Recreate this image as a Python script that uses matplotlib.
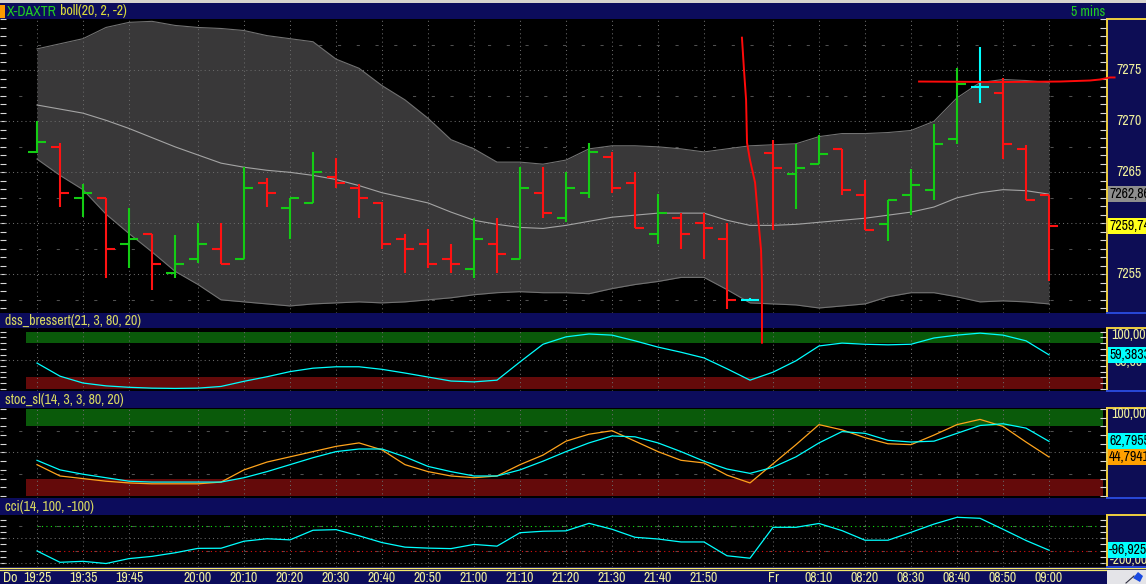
import numpy as np
import matplotlib
matplotlib.use("Agg")
import matplotlib.pyplot as plt
from matplotlib.ticker import MultipleLocator, NullLocator
from matplotlib.patches import Rectangle, Polygon

# ---------------- data ----------------
opens = [7267.0, 7267.5, 7262.5, 7262.5, 7258.0, 7259.0, 7255.1, 7256.5, 7257.5, 7256.5,
         7264.0, 7261.5, 7262.0, 7264.5, 7263.5, 7262.0, 7258.5, 7258.0, 7256.5, 7255.5,
         7258.0, 7256.5, 7263.0, 7260.5, 7263.0, 7266.5, 7264.0, 7259.0, 7260.5, 7260.0,
         7258.5, 7252.5, 7266.9, 7264.8, 7265.8, 7267.3, 7262.8, 7259.9, 7262.8, 7263.3,
         7268.3, 7273.4, 7272.8, 7267.3, 7262.8]
highs = [7270.0, 7267.9, 7263.9, 7262.5, 7261.5, 7259.0, 7258.9, 7260.0, 7260.0, 7265.5,
         7264.4, 7262.5, 7267.0, 7266.4, 7263.9, 7262.1, 7259.0, 7259.4, 7258.0, 7260.5,
         7260.5, 7265.5, 7265.5, 7265.0, 7267.9, 7267.0, 7265.0, 7262.9, 7261.0, 7261.0,
         7260.0, 7252.65, 7268.2, 7267.8, 7268.7, 7267.3, 7264.2, 7262.3, 7265.3, 7269.7,
         7275.2, 7277.3, 7274.2, 7267.7, 7262.8]
lows = [7266.9, 7261.6, 7260.6, 7254.6, 7255.6, 7253.5, 7254.6, 7256.1, 7256.0, 7256.5,
        7261.6, 7258.5, 7262.0, 7263.5, 7260.5, 7257.5, 7255.1, 7255.6, 7255.1, 7254.6,
        7255.1, 7256.5, 7260.5, 7260.1, 7262.5, 7263.0, 7259.5, 7258.0, 7257.5, 7256.5,
        7251.6, 7252.35, 7259.3, 7261.4, 7265.8, 7262.8, 7259.3, 7258.3, 7260.8, 7262.3,
        7267.8, 7271.8, 7266.3, 7262.3, 7254.3]
closes = [7268.0, 7263.0, 7263.0, 7257.5, 7258.5, 7256.0, 7256.0, 7258.0, 7256.0, 7263.5,
          7263.0, 7262.5, 7265.0, 7264.0, 7262.5, 7258.0, 7257.5, 7256.0, 7256.0, 7258.5,
          7257.0, 7263.5, 7261.0, 7263.5, 7267.0, 7263.5, 7259.5, 7261.0, 7259.0, 7259.5,
          7252.5, 7252.5, 7265.4, 7265.4, 7266.8, 7263.3, 7259.3, 7262.3, 7263.8, 7267.8,
          7273.7, 7273.4, 7267.8, 7262.3, 7259.74]

bb_upper = [7277.1, 7277.6, 7278.1, 7279.2, 7279.7, 7279.8, 7279.4, 7279.2, 7279.1, 7278.9,
            7278.4, 7278.1, 7277.8, 7276.1, 7275.2, 7273.5, 7272.1, 7270.3, 7268.2, 7267.3,
            7266.0, 7266.0, 7265.8, 7266.2, 7267.3, 7267.6, 7267.6, 7267.5, 7267.3, 7267.0,
            7267.3, 7267.6, 7267.7, 7267.8, 7268.5, 7268.8, 7268.8, 7268.9, 7269.1, 7270.0,
            7272.3, 7273.8, 7274.1, 7274.0, 7273.8]
bb_middle = [7271.6, 7271.2, 7270.8, 7270.1, 7269.3, 7268.4, 7267.5, 7266.7, 7265.9, 7265.5,
             7265.2, 7265.0, 7264.7, 7264.3, 7263.7, 7263.0, 7262.5, 7262.0, 7261.1, 7260.3,
             7259.9, 7259.6, 7259.5, 7259.8, 7260.2, 7260.6, 7260.8, 7261.0, 7261.0, 7261.0,
             7260.3, 7259.8, 7259.8, 7259.9, 7260.1, 7260.3, 7260.5, 7260.8, 7261.1, 7261.6,
             7262.5, 7263.0, 7263.3, 7263.2, 7262.86]
bb_lower = [7266.3, 7264.7, 7263.3, 7260.9, 7259.0, 7257.2, 7255.3, 7254.0, 7252.5, 7252.3,
            7252.1, 7251.9, 7252.1, 7252.2, 7252.3, 7252.2, 7252.3, 7252.5, 7252.7, 7253.0,
            7253.2, 7253.3, 7253.2, 7253.2, 7253.1, 7253.6, 7254.0, 7254.3, 7254.7, 7254.7,
            7253.5, 7252.2, 7252.1, 7252.0, 7251.7, 7251.9, 7252.1, 7252.8, 7253.2, 7253.2,
            7252.8, 7252.3, 7252.4, 7252.3, 7252.1]

dss = [45, 22, 10, 5, 2.5, 1, 0.5, 1, 4, 13,
       21, 30, 36, 38.5, 38.5, 34, 27.5, 20.5, 13.5, 12,
       15, 47, 78, 91, 96, 94, 84, 73, 64, 54,
       35, 15, 29, 49, 75, 80, 78, 77, 78, 89,
       94, 97.5, 94, 84, 59.3833]

stoch_slow = [41, 30, 25, 21, 17, 16, 16, 16, 16, 21,
              28, 36, 44, 51, 54, 54, 45, 34, 28, 23,
              23, 30, 40, 51, 61, 69, 68, 61, 51, 40,
              31, 26, 33, 45, 61, 74, 72, 64, 62, 63,
              72, 81, 83, 78, 62.7955]
stoch_fast = [36, 23, 20, 17, 15, 14, 14, 14, 16, 30,
              39, 45, 51, 57, 61, 53, 36, 28, 23, 21,
              23, 36, 47, 63, 71, 75, 63, 51, 41, 38,
              24, 15, 37, 59, 82, 76, 67, 60, 59, 70,
              82, 88, 80, 62, 44.7941]

cci = [-103, -195, -187, -205, -165, -147, -118, -82, -81, -24,
       -4, -13, 65, 70, 20, -35, -72, -80, -84, -50,
       -64, 45, 57, 60, 121, 73, 8, -6, -30, -30,
       -142, -162, 89, 89, 120, 62, -16, -16, 48, 115,
       170, 162, 73, -18, -96.925]

xtick_idx = [0, 2, 4, 7, 9, 11, 13, 15, 17, 19, 21, 23, 25, 27, 29, 32, 34, 36, 38, 40, 42, 44]
xtick_labels = ["19:25", "19:35", "19:45", "20:00", "20:10", "20:20", "20:30", "20:40", "20:50",
                "21:00", "21:10", "21:20", "21:30", "21:40", "21:50", "Fr", "08:10", "08:20",
                "08:30", "08:40", "08:50", "09:00"]
day_label = "Do"
price_ticks = [7255, 7260, 7265, 7270, 7275]
price_tick_labels = ["7255", "", "7265", "7270", "7275"]   # 7260 hidden by the markers

# hand-drawn annotation lines (bar index, price)
trend1_x = [30.65, 30.74, 30.83, 30.87, 31.0, 31.22, 31.35, 31.48, 31.52, 31.52, 31.52]
trend1_y = [7278.2, 7275.0, 7272.1, 7267.9, 7266.2, 7264.0, 7260.6, 7257.4, 7254.1, 7250.5, 7248.3]
trend2_x = [38.35, 41.87, 44.48, 45.78, 46.22, 46.65, 46.85]
trend2_y = [7273.9, 7273.85, 7273.9, 7274.0, 7274.1, 7274.3, 7274.3]

# ---------------- style ----------------
plt.rcParams['font.family'] = ['Archivo Narrow', 'Liberation Sans', 'DejaVu Sans']
plt.rcParams['font.size'] = 10

W, H = 1146, 584
fig = plt.figure(figsize=(W / 100, H / 100), dpi=100, facecolor='black')


def rect(x0, y0, x1, y1):
    return [x0 / W, 1 - y1 / H, (x1 - x0) / W, (y1 - y0) / H]


NAVY = '#0C0C5C'
PANEL = '#0D0D55'
TXT = '#EEEE9C'
TITLE_TXT = '#D8D860'
GRID = '#6A6A6A'
GREEN = '#14CC14'
RED = '#FF1212'
CYAN = '#00FFFF'
ORANGE = '#FFA41C'
PLOT_R = 1106
x = np.arange(len(opens))
XL = ((0 - 37) / 23, (PLOT_R - 37) / 23)
DOT = (0, (1, 3))


def bare(ax):
    ax.set_xticks([])
    ax.set_yticks([])
    for s in ax.spines.values():
        s.set_visible(False)


def title_bar(y0, y1, text, color=TITLE_TXT):
    a = fig.add_axes(rect(0, y0, W, y1), zorder=1)
    a.set_facecolor(NAVY)
    bare(a)
    a.set_xlim(0, W)
    a.set_ylim(y1, y0)
    t = None
    if text:
        t = a.text(5, (y0 + y1) / 2 + 0.5, text, color=color, va='center', ha='left')
    return a, t


def right_panel(y0, y1, ylim):
    a = fig.add_axes(rect(1107, y0, W, y1), zorder=3)
    a.set_facecolor(PANEL)
    a.set_xticks([])
    a.set_yticks([])
    a.set_xlim(0, W - 1107)
    a.set_ylim(*ylim)
    a.spines['right'].set_visible(False)
    a.spines['left'].set_color('#F0D040')
    a.spines['top'].set_color('#F0D040')
    a.spines['left'].set_linewidth(1.4)
    a.spines['top'].set_linewidth(1.4)
    a.spines['bottom'].set_color('#2848D8')
    a.spines['bottom'].set_linewidth(1.4)
    return a


def box_label(a, yv, s, fc, tc='black'):
    a.text(2, yv, s, color=tc, ha='left', va='center', zorder=5,
           bbox=dict(facecolor=fc, edgecolor='none', pad=0.8))


def panel_common(a, ylim, minor):
    a.set_facecolor('black')
    a.set_xlim(*XL)
    a.set_ylim(*ylim)
    for s in a.spines.values():
        s.set_visible(False)
    a.xaxis.set_major_locator(NullLocator())
    a.yaxis.set_major_locator(NullLocator())
    a.yaxis.set_minor_locator(MultipleLocator(minor))
    a.tick_params(axis='y', which='minor', left=True, right=True, direction='in',
                  length=4, width=0.8, color='#D8D8D8', labelleft=False, labelright=False)
    for i in xtick_idx:
        a.axvline(i, color=GRID, lw=0.75, ls=DOT, zorder=2)


# window strip at the very top
strip = fig.add_axes(rect(0, 0, W, 3))
strip.set_facecolor('#D6D3CE')
bare(strip)

# ---------------- title bars ----------------
tb1, _ = title_bar(3, 19, None)
tb1.add_patch(Rectangle((0, 5), 5, 13, facecolor='#FF9A00', edgecolor='none'))
t_sym = tb1.text(7, 11.5, "X-DAXTR", color='#22CC22', va='center', ha='left')
tb1.annotate(" boll(20, 2, -2)", xy=(1, 0), xycoords=t_sym, va='bottom', ha='left',
             color='#DCDC3C')
tb1.text(1105, 11.5, "5 mins", color='#22CC22', va='center', ha='right')
title_bar(313, 328, "dss_bressert(21, 3, 80, 20)")
title_bar(391, 408, "stoc_sl(14, 3, 3, 80, 20)")
title_bar(498, 515, "cci(14, 100, -100)")

# ---------------- main price panel ----------------
MAIN_YL = (7251.21, 7280.03)
axm = fig.add_axes(rect(0, 19, PLOT_R, 313), zorder=8)
panel_common(axm, MAIN_YL, 5 / 6)
for p in price_ticks:
    axm.axhline(p, color=GRID, lw=0.75, ls=DOT, zorder=2)
for p in np.arange(price_ticks[0] - 2.5, MAIN_YL[1], 5):
    axm.axhline(p, color='#505050', lw=0.75, ls=(0, (3, 15)), zorder=0.5)

axm.fill_between(x, bb_lower, bb_upper, color='#393839', lw=0, zorder=1)
axm.plot(x, bb_upper, color='#727272', lw=0.8, zorder=1.5)
axm.plot(x, bb_lower, color='#727272', lw=0.8, zorder=1.5)
axm.plot(x, bb_middle, color='#A4A4A4', lw=0.8, zorder=2.5)

cols = [GREEN if c > o else (RED if c < o else CYAN) for o, c in zip(opens, closes)]
axm.vlines(x, lows, highs, colors=cols, lw=1.5, zorder=4)
axm.hlines(opens, x - 0.37, x, colors=cols, lw=1.5, zorder=4)
axm.hlines(closes, x, x + 0.37, colors=cols, lw=1.5, zorder=4)

axm.plot(trend1_x, trend1_y, color='#FF0A0A', lw=1.4, clip_on=False, zorder=6)
axm.plot(trend2_x, trend2_y, color='#FF0A0A', lw=1.4, clip_on=False, zorder=6)

axr = right_panel(19, 313, MAIN_YL)
for p, lab in zip(price_ticks, price_tick_labels):
    if lab:
        axr.text(22, p, lab, color=TXT, ha='center', va='center')
box_label(axr, bb_middle[-1], f"{bb_middle[-1]:.2f}".replace('.', ','), '#8E8E8E')
box_label(axr, closes[-1], f"{closes[-1]:.2f}".replace('.', ','), '#FFFF1A')

# ---------------- DSS panel ----------------
DSS_YL = (-4.0, 106.5)
axd = fig.add_axes(rect(0, 328, PLOT_R, 391), zorder=4)
panel_common(axd, DSS_YL, 10)
axd.axhline(50, color=GRID, lw=0.75, ls=DOT, zorder=2)
band_x = [-0.48, 46.35]
axd.fill_between(band_x, 80, 100, color='#0A5A0A', lw=0, zorder=1)
axd.fill_between(band_x, 0, 20, color='#640A0A', lw=0, zorder=1)
axd.plot(x, dss, color=CYAN, lw=0.9, zorder=4)
axdr = right_panel(328, 391, DSS_YL)
axdr.text(22, 94.5, "100,00", color=TXT, ha='center', va='center')
axdr.text(22, 46, "50,00", color=TXT, ha='center', va='center')
box_label(axdr, dss[-1], f"{dss[-1]:.4f}".replace('.', ','), CYAN)

# ---------------- Stochastic panel ----------------
STO_YL = (-2.3, 101.1)
axs = fig.add_axes(rect(0, 408, PLOT_R, 498), zorder=4)
panel_common(axs, STO_YL, 10)
axs.axhline(50, color=GRID, lw=0.75, ls=DOT, zorder=2)
for lv in (25, 75):
    axs.axhline(lv, color='#505050', lw=0.75, ls=(0, (3, 15)), zorder=0.5)
axs.fill_between(band_x, 80, 100, color='#0A5A0A', lw=0, zorder=1)
axs.fill_between(band_x, 0, 20, color='#640A0A', lw=0, zorder=1)
axs.plot(x, stoch_fast, color=ORANGE, lw=0.9, zorder=4)
axs.plot(x, stoch_slow, color=CYAN, lw=0.9, zorder=4)
axsr = right_panel(408, 498, STO_YL)
axsr.text(22, 94.5, "100,00", color=TXT, ha='center', va='center')
box_label(axsr, stoch_slow[-1], f"{stoch_slow[-1]:.4f}".replace('.', ','), CYAN)
box_label(axsr, stoch_fast[-1], f"{stoch_fast[-1]:.4f}".replace('.', ','), '#FFA000')

# ---------------- CCI panel ----------------
CCI_YL = (-233.2, 188.7)
axc = fig.add_axes(rect(0, 515, PLOT_R, 567), zorder=4)
panel_common(axc, CCI_YL, 50)
for lv in (0, -200):
    axc.axhline(lv, color=GRID, lw=0.75, ls=DOT, zorder=2)
for lv in (100, -100):
    axc.axhline(lv, color='#505050', lw=0.75, ls=(0, (3, 15)), zorder=0.5)
axc.plot([0, 46.1], [100, 100], color='#10E010', lw=0.8, ls=DOT, zorder=3)
axc.plot([0, 46.1], [-100, -100], color='#E01010', lw=0.8, ls=DOT, zorder=3)
axc.plot(x, cci, color=CYAN, lw=0.9, zorder=4)
axcr = right_panel(515, 567, CCI_YL)
axcr.text(22, -176, "-200,00", color=TXT, ha='center', va='center')
box_label(axcr, cci[-1], f"{cci[-1]:.4f}".replace('.', ','), CYAN)

# ---------------- time axis bar ----------------
axx = fig.add_axes(rect(0, 567, W, 584), zorder=2)
axx.set_facecolor(NAVY)
bare(axx)
axx.set_xlim(XL[0], (W - 37) / 23)
axx.set_ylim(584, 567)
axx.axhline(567.6, color='#F4E86A', lw=0.9)
axx.axhline(569.6, color='#F4E86A', lw=0.9)
for i, lab in zip(xtick_idx, xtick_labels):
    axx.text(i, 577.5, lab, color=TXT, ha='center', va='center')
axx.text(XL[0] + 3 / 23, 577.5, day_label, color=TXT, ha='left', va='center')

# corner box with pencil icon
fig.patches.append(Rectangle((1107 / W, 0), (W - 1107) / W, 14.5 / H, transform=fig.transFigure,
                             facecolor='#E4E4E8', edgecolor='none', zorder=20))
fig.patches.append(Polygon([[1133 / W, 6 / H], [1138 / W, 12 / H], [1143 / W, 8 / H], [1140 / W, 2 / H]],
                           closed=True, transform=fig.transFigure, facecolor='#1A4AE0',
                           edgecolor='none', zorder=21))
fig.lines.append(plt.Line2D([1126 / W, 1134 / W], [1 / H, 8 / H], transform=fig.transFigure,
                            color='#303040', lw=0.8, zorder=21))

fig.savefig('out.png', dpi=100, facecolor='black')
